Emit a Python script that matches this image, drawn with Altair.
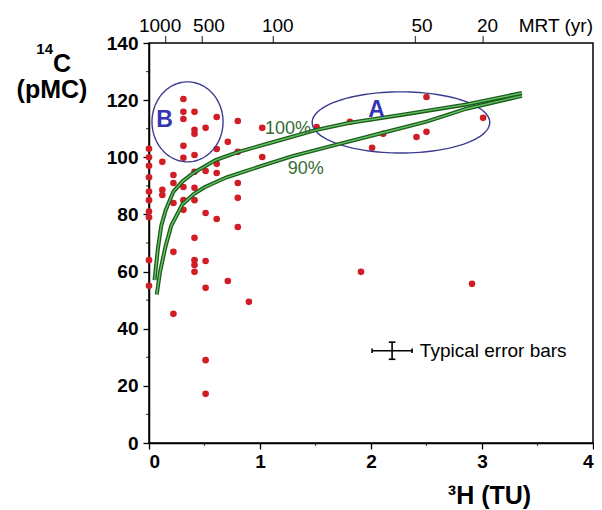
import altair as alt
import pandas as pd
import numpy as np

FONT = "Liberation Sans"

# ---- data -------------------------------------------------------------
tritium_tu = [0, 0, 0, 0, 0, 0, 0, 0, 0, 0,
              0.12, 0.12, 0.12,
              0.22, 0.22, 0.22, 0.22, 0.22,
              0.31, 0.31, 0.31, 0.31, 0.31, 0.31, 0.31, 0.31,
              0.41, 0.41, 0.41, 0.41, 0.41, 0.41, 0.41, 0.41, 0.41, 0.41, 0.41,
              0.51, 0.51, 0.51, 0.51, 0.51, 0.51, 0.51,
              0.61, 0.61, 0.61, 0.61, 0.61,
              0.71, 0.71,
              0.80, 0.80, 0.80, 0.80, 0.80,
              0.90,
              1.02, 1.02,
              1.51, 1.81, 2.01, 2.11, 2.41, 2.50, 2.50, 3.01,
              1.91, 2.91]
carbon_pmc = [103, 100, 97, 93, 88, 85, 81, 79, 64, 55,
              98.4, 88.6, 86.8,
              93.8, 91, 84, 66.9, 45.2,
              120.4, 115.9, 113.4, 104, 99.8, 89.6, 85, 81.6,
              115.9, 109.6, 108.2, 100.8, 94.9, 89.3, 85, 71.8, 64, 62.3, 59.9,
              110.3, 95.2, 80.5, 63.7, 54.3, 29, 17.2,
              114.1, 102.9, 97.7, 94.5, 78.4,
              105.4, 56.7,
              112.7, 101.9, 91, 85.8, 75.6,
              49.4,
              110.3, 100.1,
              110.6, 112.4, 103.3, 108.2, 107.1, 108.9, 121.1, 113.8,
              59.9, 55.7]

curve100_h = [0.05, 0.08, 0.11, 0.15, 0.22, 0.30, 0.40, 0.60, 0.80, 1.09, 1.50, 1.80, 2.30, 2.86, 3.36]
curve100_c = [57, 68, 76, 81.5, 88, 91.5, 94.5, 99, 101.8, 105, 109.5, 112, 115, 118.5, 122.5]
curve90_h = [0.07, 0.10, 0.15, 0.20, 0.30, 0.40, 0.50, 0.70, 1.00, 1.30, 1.70, 2.10, 2.50, 2.86, 3.36]
curve90_c = [52, 60, 69, 76, 83.5, 87, 89.5, 93, 96.8, 100.5, 104.5, 108.5, 112.5, 117, 121.5]

# ellipses: name, centre (TU, pMC), radii (TU, pMC)
ell_names = ["A", "B"]
ell_cx = [2.27, 0.347]
ell_cy = [112.2, 112.4]
ell_rx = [0.80, 0.32]
ell_ry = [10.7, 14.0]
ell_label_h = [2.05, 0.14]
ell_label_c = [116.6, 113.0]

curve_labels = ["100%", "90%"]
curve_label_h = [1.045, 1.25]
curve_label_c = [110.0, 96.0]

# typical error bar
eb_h, eb_c, eb_herr, eb_cerr = 2.19, 32.3, 0.18, 3.0
eb_text = "Typical error bars"

# axes
x_ticks = [0, 1, 2, 3, 4]
x_minor = [0.5, 1.5, 2.5, 3.5]
y_ticks = [0, 20, 40, 60, 80, 100, 120, 140]
y_minor = [10, 30, 50, 70, 90, 110, 130]
mrt_labels = ["1000", "500", "100", "50", "20"]
mrt_pos = [0.15, 0.48, 1.12, 2.40, 3.01]          # tick positions on the 3H scale
mrt_label_pos = [0.10, 0.54, 1.16, 2.46, 3.05]    # label centres as printed
mrt_title = "MRT (yr)"
x_title = "³H (TU)"
y_title_sup, y_title_main, y_title_unit = "14", "C", "(pMC)"

# ---- tables ------------------------------------------------------------
pts = pd.DataFrame({"h": tritium_tu, "c": carbon_pmc})

curves = pd.concat([
    pd.DataFrame({"h": curve100_h, "c": curve100_c, "k": "100", "i": range(len(curve100_h))}),
    pd.DataFrame({"h": curve90_h, "c": curve90_c, "k": "90", "i": range(len(curve90_h))}),
])

t = np.linspace(0, 2 * np.pi, 121)
ell_rows = []
for n, cx, cy, rx, ry in zip(ell_names, ell_cx, ell_cy, ell_rx, ell_ry):
    for i, a in enumerate(t):
        ell_rows.append({"h": cx + rx * np.cos(a), "c": cy + ry * np.sin(a), "k": n, "i": i})
ells = pd.DataFrame(ell_rows)

ell_lab = pd.DataFrame({"h": ell_label_h, "c": ell_label_c, "t": ell_names})
cur_lab = pd.DataFrame({"h": curve_label_h, "c": curve_label_c, "t": curve_labels})

eb_rules = pd.DataFrame({
    "h":  [eb_h - eb_herr, eb_h, eb_h - eb_herr, eb_h + eb_herr, eb_h - 0.03, eb_h - 0.03],
    "h2": [eb_h + eb_herr, eb_h, eb_h - eb_herr, eb_h + eb_herr, eb_h + 0.03, eb_h + 0.03],
    "c":  [eb_c, eb_c - eb_cerr, eb_c - 0.8, eb_c - 0.8, eb_c - eb_cerr, eb_c + eb_cerr],
    "c2": [eb_c, eb_c + eb_cerr, eb_c + 0.8, eb_c + 0.8, eb_c - eb_cerr, eb_c + eb_cerr],
})
eb_lab = pd.DataFrame({"h": [eb_h + 0.25], "c": [eb_c], "t": [eb_text]})
mrt = pd.DataFrame({"h": mrt_pos})
mrt_l = pd.DataFrame({"h": mrt_label_pos, "t": mrt_labels})
mrt_t = pd.DataFrame({"h": [4.0], "t": [mrt_title]})

# ---- scales / axes -----------------------------------------------------
xs = alt.Scale(domain=[0, 4], nice=False, zero=False)
ys = alt.Scale(domain=[0, 140], nice=False, zero=False)

bottom_axis = alt.Axis(
    values=x_ticks, format="d", grid=False, tickSize=6,
    labelPadding=3, labelFontWeight="bold", labelFontSize=19,
    titleX=340, titleY=60, titleAlign="center",
    titleBaseline="alphabetic", titleFontSize=25, titleFontWeight="bold",
)
left_axis = alt.Axis(
    values=y_ticks, format="d", grid=False, tickSize=6,
    labelPadding=5, labelFontWeight="bold", labelFontSize=19,
)

X0 = lambda: alt.X("h:Q", scale=xs, axis=None)
Y0 = lambda: alt.Y("c:Q", scale=ys, axis=None)

points = alt.Chart(pts).mark_circle(size=44, color="#d11e26", opacity=1).encode(
    x=alt.X("h:Q", scale=xs, axis=bottom_axis, title=x_title),
    y=alt.Y("c:Q", scale=ys, axis=left_axis, title=None),
)

# minor ticks on the bottom and left axes
x_minor_l = alt.Chart(pd.DataFrame({"h": x_minor})).mark_tick(
    color="black", orient="vertical", size=3, thickness=1.2
).encode(x=X0(), y=alt.value(401.5))
y_minor_l = alt.Chart(pd.DataFrame({"c": y_minor})).mark_tick(
    color="black", orient="horizontal", size=3, thickness=1.2
).encode(y=Y0(), x=alt.value(-1.5))

# top (MRT) axis drawn as ticks + labels, positioned through the x scale
mrt_ticks = alt.Chart(mrt).mark_tick(
    color="black", orient="vertical", size=7, thickness=1.3
).encode(x=X0(), y=alt.value(-3.5))
mrt_text = alt.Chart(mrt_l).mark_text(
    font=FONT, fontSize=19, color="black", align="center", baseline="alphabetic"
).encode(x=X0(), y=alt.value(-11), text="t:N")
mrt_title_l = alt.Chart(mrt_t).mark_text(
    font=FONT, fontSize=19, color="black", align="right", baseline="alphabetic"
).encode(x=X0(), y=alt.value(-11), text="t:N")

# y-axis title (with superscript) placed left of the axis
y_sup = alt.Chart(pd.DataFrame({"t": [y_title_sup]})).mark_text(
    font=FONT, fontSize=15, fontWeight="bold", color="black",
    align="right", baseline="alphabetic"
).encode(x=alt.value(-96), y=alt.value(11), text="t:N")
y_main = alt.Chart(pd.DataFrame({"t": [y_title_main]})).mark_text(
    font=FONT, fontSize=25, fontWeight="bold", color="black",
    align="left", baseline="alphabetic"
).encode(x=alt.value(-96), y=alt.value(29), text="t:N")
y_unit = alt.Chart(pd.DataFrame({"t": [y_title_unit]})).mark_text(
    font=FONT, fontSize=25, fontWeight="bold", color="black",
    align="center", baseline="alphabetic"
).encode(x=alt.value(-97), y=alt.value(55), text="t:N")

ell_layer = alt.Chart(ells).mark_line(color="#3d3d90", strokeWidth=1.4).encode(
    x=X0(), y=Y0(), detail="k:N", order="i:Q")

curve_outer = alt.Chart(curves).mark_line(color="#1d5a1d", strokeWidth=4).encode(
    x=X0(), y=Y0(), detail="k:N", order="i:Q")
curve_inner = alt.Chart(curves).mark_line(color="#62c462", strokeWidth=1.4).encode(
    x=X0(), y=Y0(), detail="k:N", order="i:Q")

ell_text = alt.Chart(ell_lab).mark_text(
    font=FONT, fontSize=23, fontWeight="bold", color="#3434b4",
    align="center", baseline="middle").encode(x=X0(), y=Y0(), text="t:N")

cur_text = alt.Chart(cur_lab).mark_text(
    font=FONT, fontSize=18, color="#356b35", align="left", baseline="middle"
).encode(x=X0(), y=Y0(), text="t:N")

eb_layer = alt.Chart(eb_rules).mark_rule(color="black", strokeWidth=1.6).encode(
    x=X0(), x2="h2:Q", y=Y0(), y2="c2:Q")
eb_text_layer = alt.Chart(eb_lab).mark_text(
    font=FONT, fontSize=19, color="black", align="left", baseline="middle"
).encode(x=X0(), y=Y0(), text="t:N")

chart = alt.layer(
    points, ell_layer, curve_outer, curve_inner, ell_text, cur_text,
    eb_layer, eb_text_layer, x_minor_l, y_minor_l, mrt_ticks, mrt_text,
    mrt_title_l, y_sup, y_main, y_unit
).resolve_axis(x="independent", y="independent").properties(
    width=444, height=400, background="white",
    autosize=alt.AutoSizeParams(type="none"),
    padding={"left": 141, "top": 35, "right": 1, "bottom": 66},
).configure_view(stroke="black", strokeWidth=1.5).configure_axis(
    labelFont=FONT, titleFont=FONT, labelColor="black", titleColor="black",
    domainColor="black", domainWidth=1.5, tickColor="black", tickWidth=1.3,
    grid=False,
)

chart.save("out.html", embed_options={"renderer": "svg", "actions": False})
